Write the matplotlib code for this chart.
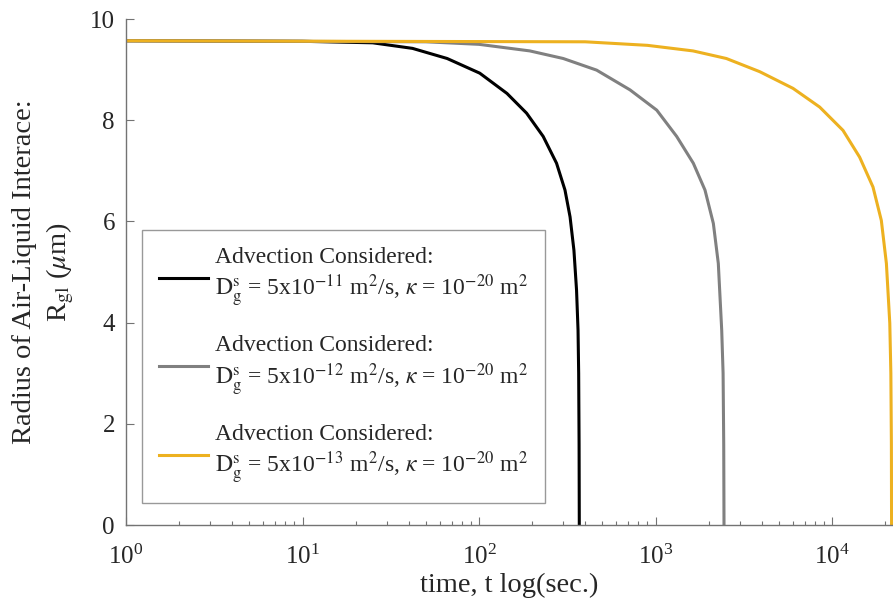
import matplotlib
matplotlib.use("Agg")
import matplotlib.pyplot as plt

# Values (time in s, radius in um)
t_black = [1, 10, 25, 42, 66, 101, 144, 186, 231, 275, 307, 328, 345, 357, 364, 367, 369, 370]
r_black = [9.57, 9.56, 9.53, 9.42, 9.22, 8.93, 8.53, 8.14, 7.68, 7.15, 6.62, 6.09, 5.43, 4.64,
           3.85, 3.0, 1.6, 0.0]

t_gray = [1, 50, 100, 194, 300, 464, 717, 1016, 1318, 1638, 1907, 2127, 2269, 2372, 2415, 2435,
          2444]
r_gray = [9.57, 9.55, 9.50, 9.37, 9.22, 8.99, 8.60, 8.20, 7.68, 7.15, 6.62, 5.96, 5.17, 3.85,
          3.0, 1.6, 0.0]

t_gold = [1, 400, 900, 1631, 2520, 3892, 6012, 8515, 11540, 14340, 17070, 19030, 20330, 21250,
          21550, 21700, 21750]
r_gold = [9.57, 9.55, 9.48, 9.37, 9.22, 8.96, 8.63, 8.26, 7.80, 7.27, 6.68, 6.02, 5.17, 3.99,
          3.0, 1.6, 0.0]

labels = [
    "Advection Considered:\n$\\mathrm{D}_\\mathrm{g}^\\mathrm{s}$ = 5x10$^{-11}$ m$^2$/s, "
    "$\\kappa$ = 10$^{-20}$ m$^2$",
    "Advection Considered:\n$\\mathrm{D}_\\mathrm{g}^\\mathrm{s}$ = 5x10$^{-12}$ m$^2$/s, "
    "$\\kappa$ = 10$^{-20}$ m$^2$",
    "Advection Considered:\n$\\mathrm{D}_\\mathrm{g}^\\mathrm{s}$ = 5x10$^{-13}$ m$^2$/s, "
    "$\\kappa$ = 10$^{-20}$ m$^2$",
]
colors = ["black", "#808080", "#EDB120"]

plt.rcParams["font.family"] = ["Liberation Serif", "DejaVu Serif"]
plt.rcParams["mathtext.fontset"] = "stix"
plt.rcParams["text.color"] = "#262626"

fig = plt.figure(figsize=(8.93, 6.10), dpi=100)
ax = fig.add_axes([0.1411, 0.1393, 0.8589, 0.8295])

for t, r, c, lab in zip([t_black, t_gray, t_gold], [r_black, r_gray, r_gold], colors, labels):
    ax.plot(t, r, color=c, lw=2.2, label=lab)

ax.set_xscale("log")
ax.set_xlim(1, 22160)
ax.set_ylim(0, 10)
ax.set_yticks([0, 2, 4, 6, 8, 10])

for s in ["top", "right"]:
    ax.spines[s].set_visible(False)
for s in ["left", "bottom"]:
    ax.spines[s].set_color("0.45")
    ax.spines[s].set_linewidth(1.0)

ax.tick_params(which="major", direction="in", length=6, width=0.8, color="0.45",
               labelsize=18, labelcolor="#262626")
ax.tick_params(which="minor", direction="in", length=3, width=0.8, color="0.45")
ax.tick_params(axis="x", which="major", pad=14)
ax.tick_params(axis="y", which="major", pad=8)

ax.set_xlabel("time, t log(sec.)", fontsize=20.5, color="#262626", labelpad=3)
ax.set_ylabel("Radius of Air-Liquid Interace:\nR$_{\\mathrm{gl}}$ ($\\mu$m)", fontsize=20.5,
              color="#262626", labelpad=10, linespacing=1.35)

leg = ax.legend(loc="lower left", bbox_to_anchor=(0.021, 0.0435), borderaxespad=0,
                fontsize=17, frameon=True, fancybox=False, edgecolor="0.6", framealpha=1.0,
                handlelength=2.05, handletextpad=0.3, labelspacing=1.1, borderpad=0.72)
leg.get_frame().set_linewidth(1.0)

fig.savefig("out.png", dpi=100)
